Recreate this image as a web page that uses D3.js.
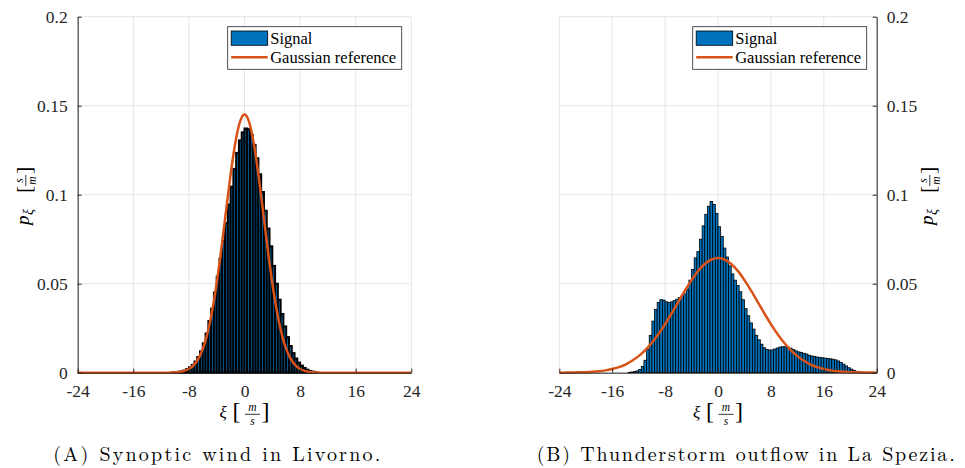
<!DOCTYPE html>
<html><head><meta charset="utf-8">
<script src="https://cdn.jsdelivr.net/npm/d3@7"></script>
<style>
body{margin:0;background:#fff}
svg{display:block}
</style>
</head><body>
<svg id="c" width="965" height="468"></svg>
<script>
// ---------------- data ----------------
const xTicks = [-24, -16, -8, 0, 8, 16, 24];
const xTickLabels = ["-24", "-16", "-8", "0", "8", "16", "24"];
const yTicks = [0, 0.05, 0.1, 0.15, 0.2];
const yTickLabels = ["0", "0.05", "0.1", "0.15", "0.2"];
const legendLabels = ["Signal", "Gaussian reference"];
const captions = ["(A) Synoptic wind in Livorno.", "(B) Thunderstorm outflow in La Spezia."];

const binWidth = 0.4;
// (A) synoptic: first bin left edge and pdf values
const synopticBinStart = -10.4;
const synopticDensity = [
  0.0002,0.0003,0.0005,0.0008,0.0012,0.002,0.003,0.0044,0.0063,0.0088,
  0.012,0.0165,0.022,0.029,0.036,0.045,0.054,0.064,0.074,0.084,
  0.0945,0.1045,0.1145,0.1235,0.1305,0.1350,0.1372,0.1368,0.1335,0.1280,
  0.1205,0.1115,0.1015,0.091,0.081,0.071,0.060,0.050,0.041,0.033,
  0.026,0.020,0.015,0.011,0.008,0.0057,0.004,0.0027,0.0017,0.001,
  0.0006,0.0003
];
// (B) thunderstorm
const stormBinStart = -13.6;
const stormDensity = [
  0.0002,0.0004,0.0006,0.001,0.0018,0.0035,0.007,0.013,0.021,
  0.029,0.0355,0.0395,0.041,0.0408,0.0398,0.0394,0.0398,0.0405,0.0413,0.0422,0.043,0.0443,
  0.047,0.052,0.058,0.0645,0.068,0.075,0.0825,0.089,0.0935,0.0962,0.0945,0.0895,
  0.082,0.0765,0.070,0.065,0.060,0.0555,0.052,0.049,0.0455,0.041,0.036,0.032,0.028,
  0.0245,0.021,0.0185,0.016,0.014,0.013,0.0127,0.0128,0.0133,0.0139,0.0144,0.0146,0.0146,
  0.0143,0.0138,0.013,0.0123,0.0117,0.0113,0.0109,0.0105,0.0098,0.0094,
  0.0091,0.0088,0.0086,0.0084,0.0082,0.008,0.0078,0.0076,0.0072,0.0066,
  0.0058,0.0048,0.0038,0.0028,0.002,0.0013,0.0008,0.0005,0.0003,0.0001
];

// Gaussian reference curves (sampled)
const synopticGaussX = [-24,-12,-11,-10,-9,-8,-7.5,-7,-6.5,-6,-5.5,-5,-4.5,-4,-3.5,-3,-2.5,-2,-1.5,-1,-0.5,0,
  0.5,1,1.5,2,2.5,3,3.5,4,4.5,5,5.5,6,6.5,7,7.5,8,9,10,11,12,24];
const synopticGaussY = [0,0,0.00003,0.0002,0.0007,0.0021,0.0035,0.0057,0.0089,0.0134,0.0196,0.0278,0.0380,0.0503,0.0645,0.0800,0.0959,0.1113,0.1250,0.1357,0.1426,0.145,
  0.1426,0.1357,0.1250,0.1113,0.0959,0.0800,0.0645,0.0503,0.0380,0.0278,0.0196,0.0134,0.0089,0.0057,0.0035,0.0021,0.0007,0.0002,0.00003,0,0];
const stormGaussX = [-24,-23,-22,-21,-20,-19,-18,-17,-16,-15,-14,-13,-12,-11,-10,-9,-8,-7,-6,-5,-4,-3,-2,-1,0,
  1,2,3,4,5,6,7,8,9,10,11,12,13,14,15,16,17,18,19,20,21,22,23,24];
const stormGaussY = [0.00003,0.00005,0.0001,0.0002,0.0003,0.0005,0.0008,0.0013,0.0021,0.0031,0.0046,0.0067,0.0093,0.0127,0.0168,0.0217,0.0273,0.0334,0.0398,0.0461,0.0520,0.0572,0.0611,0.0636,0.0645,
  0.0636,0.0611,0.0572,0.0520,0.0461,0.0398,0.0334,0.0273,0.0217,0.0168,0.0127,0.0093,0.0067,0.0046,0.0031,0.0021,0.0013,0.0008,0.0005,0.0003,0.0002,0.0001,0.00005,0.00003];

// ---------------- drawing ----------------
const svg = d3.select("#c");
const AX = "#262626", GRID = "#e5e5e5", BLUE = "#0072BD", ORANGE = "#D95319";
const SERIF = '"Liberation Serif"';
const CM = '"Latin Modern Roman"';

const panels = [
  {x0: 77.7, x1: 411.3, side: "left", binStart: synopticBinStart, dens: synopticDensity,
   gx: synopticGaussX, gy: synopticGaussY, legX: 227.7, caption: captions[0], capX: 53.3, capLen: 327,
   yLabX: 29, barStroke: 2},
  {x0: 559.3, x1: 876.7, side: "right", binStart: stormBinStart, dens: stormDensity,
   gx: stormGaussX, gy: stormGaussY, legX: 692.7, caption: captions[1], capX: 536.7, capLen: 418,
   yLabX: 933, barStroke: 0.8}
];

function txt(sel, x, y, size, s, italic, anchor, fam) {
  return sel.append("text").attr("x", x).attr("y", y)
    .attr("font-family", fam || SERIF).attr("font-size", size)
    .attr("font-style", italic ? "italic" : "normal")
    .attr("text-anchor", anchor || "start").attr("fill", "#000").text(s);
}

panels.forEach(p => {
  const x = d3.scaleLinear().domain([-24, 24]).range([p.x0, p.x1]);
  const y = d3.scaleLinear().domain([0, 0.2]).range([372.7, 16.7]);
  const g = svg.append("g");

  // grid
  g.selectAll(".gx").data(xTicks).join("line")
    .attr("x1", d => x(d)).attr("x2", d => x(d)).attr("y1", y(0)).attr("y2", y(0.2))
    .attr("stroke", GRID).attr("stroke-width", 1);
  g.selectAll(".gy").data(yTicks).join("line")
    .attr("x1", p.x0).attr("x2", p.x1).attr("y1", d => y(d)).attr("y2", d => y(d))
    .attr("stroke", GRID).attr("stroke-width", 1);

  // histogram bars
  const bins = p.dens.map((v, i) => ({lo: p.binStart + i * binWidth, hi: p.binStart + (i + 1) * binWidth, v}));
  g.selectAll(".bar").data(bins).join("rect")
    .attr("x", d => x(d.lo)).attr("width", d => x(d.hi) - x(d.lo))
    .attr("y", d => y(d.v)).attr("height", d => y(0) - y(d.v))
    .attr("fill", BLUE).attr("stroke", "#000").attr("stroke-width", p.barStroke);

  // gaussian
  const pts = p.gx.map((v, i) => [v, p.gy[i]]);
  g.append("path").datum(pts)
    .attr("d", d3.line().x(d => x(d[0])).y(d => y(d[1])).curve(d3.curveMonotoneX))
    .attr("fill", "none").attr("stroke", ORANGE).attr("stroke-width", 2.5);

  // axes
  const xAxis = d3.axisBottom(x).tickValues(xTicks).tickFormat((d, i) => xTickLabels[i])
    .tickSizeInner(-4).tickSizeOuter(0).tickPadding(13);
  const xa = g.append("g").attr("transform", `translate(0,${y(0)})`).call(xAxis);
  const yAxis = (p.side === "left" ? d3.axisLeft(y) : d3.axisRight(y))
    .tickValues(yTicks).tickFormat((d, i) => yTickLabels[i]).tickSizeInner(-4).tickSizeOuter(0).tickPadding(10);
  const ya = g.append("g").attr("transform", `translate(${p.side === "left" ? p.x0 : p.x1},0)`).call(yAxis);
  [xa, ya].forEach(a => {
    a.attr("font-family", null).attr("font-size", null);
    a.select(".domain").attr("stroke", AX).attr("stroke-width", 1);
    a.selectAll(".tick line").attr("stroke", AX);
    a.selectAll(".tick text").attr("fill", AX).attr("font-family", SERIF).attr("font-size", 17.5);
  });
  xa.selectAll(".tick text").attr("dy", null).attr("y", 24);
  ya.selectAll(".tick text").attr("dy", "0.33em");

  // x label: xi [m/s]
  const cx = (p.x0 + p.x1) / 2;
  const xl = svg.append("g").attr("transform", `translate(${cx - 25},417.5)`);
  txt(xl, 0, 0, 17, "ξ", true);
  txt(xl, 13, 1.5, 24, "[", false);
  txt(xl, 33, -6.5, 11.5, "m", true, "middle");
  xl.append("line").attr("x1", 25.5).attr("x2", 40.5).attr("y1", -3.2).attr("y2", -3.2).attr("stroke", "#000").attr("stroke-width", 0.8);
  txt(xl, 33, 7, 11.5, "s", true, "middle");
  txt(xl, 42, 1.5, 24, "]", false);

  // y label: p_xi [s/m], rotated
  const yl = svg.append("g").attr("transform", `translate(${p.yLabX},225) rotate(-90)`);
  txt(yl, 0, 0, 19, "p", true);
  txt(yl, 10, 4, 14, "ξ", true);
  txt(yl, 32, 1.5, 22, "[", false);
  txt(yl, 44.5, -6.5, 11.5, "s", true, "middle");
  yl.append("line").attr("x1", 39).attr("x2", 50).attr("y1", -3.2).attr("y2", -3.2).attr("stroke", "#000").attr("stroke-width", 0.8);
  txt(yl, 44.5, 7, 11.5, "m", true, "middle");
  txt(yl, 51, 1.5, 22, "]", false);

  // legend
  const lg = svg.append("g").attr("transform", `translate(${p.legX},26.7)`);
  lg.append("rect").attr("x", 0).attr("y", 0).attr("width", 174).attr("height", 42.6)
    .attr("fill", "#fff").attr("stroke", AX).attr("stroke-width", 0.8);
  lg.append("rect").attr("x", 3.5).attr("y", 4.3).attr("width", 36.5).attr("height", 14.3)
    .attr("fill", BLUE).attr("stroke", "#000").attr("stroke-width", 0.8);
  lg.append("line").attr("x1", 3.5).attr("x2", 40).attr("y1", 30.6).attr("y2", 30.6)
    .attr("stroke", ORANGE).attr("stroke-width", 2.5);
  txt(lg, 42.5, 17.3, 16.5, legendLabels[0], false);
  txt(lg, 42.5, 36.5, 16.5, legendLabels[1], false);

  // caption
  txt(svg, p.capX, 461, 20, p.caption, false, "start", CM)
    .attr("textLength", p.capLen).attr("lengthAdjust", "spacing");
});
</script>
</body></html>
